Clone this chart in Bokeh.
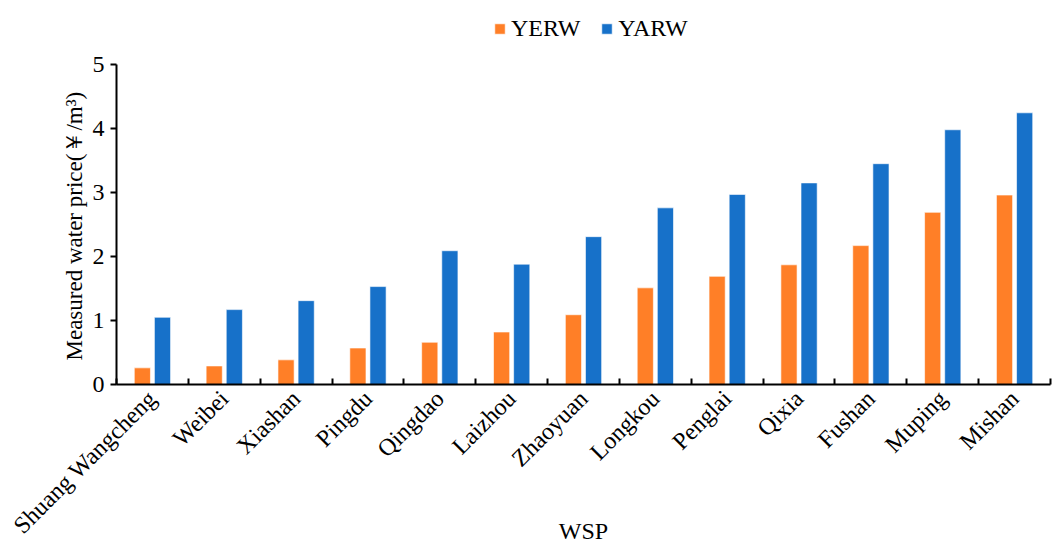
import math
from bokeh.plotting import figure
from bokeh.models import LinearAxis, FixedTicker, Legend, LegendItem, ColumnDataSource, Title
from bokeh.embed import file_html
from bokeh.resources import INLINE

categories = ["Shuang Wangcheng", "Weibei", "Xiashan", "Pingdu", "Qingdao", "Laizhou",
              "Zhaoyuan", "Longkou", "Penglai", "Qixia", "Fushan", "Muping", "Mishan"]
yerw = [0.26, 0.29, 0.385, 0.57, 0.66, 0.82, 1.09, 1.51, 1.69, 1.87, 2.17, 2.69, 2.96]
yarw = [1.05, 1.17, 1.31, 1.53, 2.09, 1.88, 2.31, 2.76, 2.97, 3.15, 3.45, 3.98, 4.245]
y_ticks = [0, 1, 2, 3, 4, 5]

FONT = "Liberation Serif"
FS = "24px"
ORANGE = "#FF7F27"
BLUE = "#1771C9"

n = len(categories)
centers = [i + 0.5 for i in range(n)]
src = ColumnDataSource(dict(
    xo=[c - 0.14 for c in centers],
    xb=[c + 0.14 for c in centers],
    yerw=yerw, yarw=yarw))

p = figure(width=1058, height=547, x_range=(0, n), y_range=(0, 6),
           output_backend="svg", toolbar_location=None,
           x_axis_location=None, y_axis_location=None,
           min_border_left=116, min_border_right=8, min_border_top=0, min_border_bottom=163)
p.outline_line_color = None
p.xgrid.visible = False
p.ygrid.visible = False
p.background_fill_color = "white"
p.border_fill_color = "white"

r1 = p.vbar(x="xo", top="yerw", width=0.225, source=src, fill_color=ORANGE,
            line_color="white", line_alpha=0.6, line_width=1)
r2 = p.vbar(x="xb", top="yarw", width=0.225, source=src, fill_color=BLUE,
            line_color="white", line_alpha=0.6, line_width=1)

# y axis
yax = LinearAxis(ticker=FixedTicker(ticks=y_ticks), bounds=(0, 5))
yax.major_label_text_font = FONT
yax.major_label_text_font_size = FS
yax.major_label_text_color = "black"
yax.major_tick_in = 0
yax.major_tick_out = 6
yax.minor_tick_line_color = None
yax.axis_line_width = 2
yax.major_tick_line_width = 2
yax.axis_line_color = "black"
yax.major_tick_line_color = "black"
yax.major_label_standoff = 6
p.add_layout(yax, "left")

ytitle = Title(text="Measured water price(￥/m³)", align="left", offset=24,
               text_font=FONT, text_font_size="23px", text_font_style="normal",
               text_color="black", standoff=6)
p.add_layout(ytitle, "left")

# x axis with boundary ticks
xax1 = LinearAxis(ticker=FixedTicker(ticks=list(range(n + 1))))
xax1.major_tick_in = 6
xax1.major_tick_out = 0
xax1.minor_tick_line_color = None
xax1.axis_line_width = 2
xax1.major_tick_line_width = 2
xax1.axis_line_color = "black"
xax1.major_tick_line_color = "black"
xax1.major_label_overrides = {i: "" for i in range(n + 1)}
xax1.major_label_standoff = 0
p.add_layout(xax1, "below")

# x axis with category labels
xax2 = LinearAxis(ticker=FixedTicker(ticks=centers))
xax2.major_label_overrides = {c: name for c, name in zip(centers, categories)}
xax2.axis_line_color = None
xax2.major_tick_line_color = None
xax2.minor_tick_line_color = None
xax2.major_label_orientation = math.pi / 4
xax2.major_label_text_font = FONT
xax2.major_label_text_font_size = FS
xax2.major_label_text_color = "black"
xax2.major_label_standoff = 4
xax2.axis_label = "WSP"
xax2.axis_label_text_font = FONT
xax2.axis_label_text_font_style = "normal"
xax2.axis_label_text_font_size = FS
xax2.axis_label_text_color = "black"
xax2.axis_label_standoff = -33
p.add_layout(xax2, "below")

legend = Legend(items=[LegendItem(label="YERW", renderers=[r1]),
                       LegendItem(label="YARW", renderers=[r2])],
                orientation="horizontal", location=(377, 342))
legend.label_text_font = FONT
legend.label_text_font_size = FS
legend.label_text_color = "black"
legend.glyph_width = 13
legend.glyph_height = 13
legend.spacing = 20
legend.label_standoff = 5
legend.border_line_color = None
legend.background_fill_alpha = 0
legend.padding = 4
legend.margin = 0
p.add_layout(legend)

open("out.html", "w").write(file_html(p, INLINE))
